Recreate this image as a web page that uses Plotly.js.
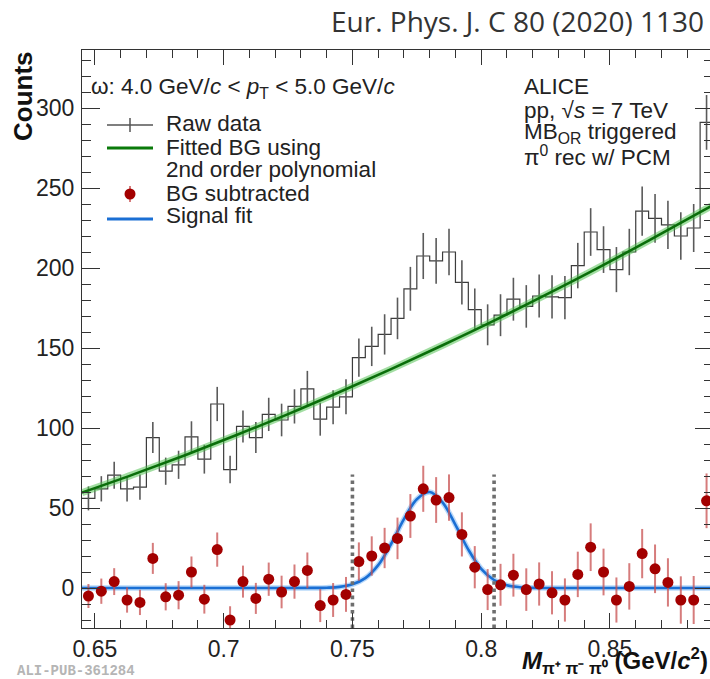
<!DOCTYPE html>
<html>
<head>
<meta charset="utf-8">
<script src="https://cdn.plot.ly/plotly-3.0.1.min.js"></script>
<style>
html, body { margin: 0; padding: 0; overflow: hidden; background: #fff; }
#chart { width: 716px; height: 679px; }
</style>
</head>
<body>
<div id="chart"></div>
<script>
// ---------------- data ----------------
const binWidth = 0.005;
const binCenters = [0.6475,0.6525,0.6575,0.6625,0.6675,0.6725,0.6775,0.6825,0.6875,0.6925,
  0.6975,0.7025,0.7075,0.7125,0.7175,0.7225,0.7275,0.7325,0.7375,0.7425,
  0.7475,0.7525,0.7575,0.7625,0.7675,0.7725,0.7775,0.7825,0.7875,0.7925,
  0.7975,0.8025,0.8075,0.8125,0.8175,0.8225,0.8275,0.8325,0.8375,0.8425,
  0.8475,0.8525,0.8575,0.8625,0.8675,0.8725,0.8775,0.8825,0.8875];

const rawCounts = [56,62,70.5,62,63,94,73,77,94.5,80.5,
  115,74,101,94,108.5,105,113.5,124.5,105.5,113,
  119.5,144,151,158.5,168.5,187,207.5,204.5,210,191,
  174,164.5,170.5,180.5,176,182.5,182,181.5,201.5,222.5,
  211.5,199,210,235.5,231,227,220,225,291];

const rawErr = [7.5,7.9,8.4,7.9,7.9,9.7,8.5,8.8,9.7,9.0,
  10.7,8.6,10.0,9.7,10.4,10.2,10.7,11.2,10.3,10.6,
  10.9,12.0,12.3,12.6,13.0,13.7,14.4,14.3,14.5,13.8,
  13.2,12.8,13.1,13.4,13.3,13.5,13.5,13.5,14.2,14.9,
  14.6,14.1,14.5,15.4,15.2,15.1,14.8,15.0,17.1];

const bgSub = [-5,-2,4,-7.5,-9,18.5,-5.5,-4.5,10,-7,
  24,-20,4,-6.5,5.5,-2.5,4,11,-11,-7.5,
  -4,16.5,20,25,31,45,62,55,56.5,33.5,
  13,-1,2,8,-1,2.5,-3,-7.5,8.5,25.5,
  10,-7.5,1,21.5,12,3.5,-7.5,-7.5,54.5];

const bgSubErr = rawErr;

// fitted background curve
const bgFitX = [0.645,0.665,0.685,0.705,0.725,0.745,0.765,0.785,0.805,0.825,0.845,0.865,0.885,0.89];
const bgFitY = [59.6,71.0,83.0,95.6,108.7,122.5,136.8,151.7,167.1,183.2,199.8,217.1,234.9,239.4];

// signal fit curve
const sigFitX = [0.645,0.70,0.72,0.735,0.74,0.745,0.75,0.755,0.76,0.765,0.77,0.775,0.78,0.785,0.79,0.795,0.80,0.805,0.81,0.815,0.82,0.83,0.85,0.89];
const sigFitY = [0,0,0,0.05,0.2,0.7,2.3,6.2,14.3,27.5,43,55.5,60,53.5,39.5,24,12,5,1.7,0.5,0.1,0,0,0];

// integration window
const intWindow = [0.75, 0.805];
const intLineTop = 71;

const xRange = [0.645, 0.89];
const yRange = [-25, 336.25];
const xTickVals = [0.65, 0.7, 0.75, 0.8, 0.85];
const xTickText = ['0.65', '0.7', '0.75', '0.8', '0.85'];
const yTickVals = [0, 50, 100, 150, 200, 250, 300];
const yTickText = ['0', '50', '100', '150', '200', '250', '300'];

// ---------------- build ----------------
const edges = binCenters.map(c => c - binWidth / 2).concat([binCenters[binCenters.length - 1] + binWidth / 2]);
const stepY = rawCounts.concat([rawCounts[rawCounts.length - 1]]);

const FONT = 'Liberation Sans, Arial, Helvetica, sans-serif';
const TXT = 22.5;

const traces = [
  { x: edges, y: stepY, mode: 'lines', line: { color: '#3c3c3c', width: 1.2, shape: 'hv' }, hoverinfo: 'skip' },
  { x: binCenters, y: rawCounts, mode: 'markers', marker: { size: 1, color: 'rgba(0,0,0,0)' },
    error_y: { type: 'data', array: rawErr, visible: true, width: 0, thickness: 1.6, color: '#5a5a5a' }, hoverinfo: 'skip' },
  { x: bgFitX, y: bgFitY, mode: 'lines', line: { color: 'rgba(70,190,70,0.5)', width: 7, shape: 'spline' }, hoverinfo: 'skip' },
  { x: bgFitX, y: bgFitY, mode: 'lines', line: { color: '#0a6e0a', width: 2.6, shape: 'spline' }, hoverinfo: 'skip' },
  { x: sigFitX, y: sigFitY, mode: 'lines', line: { color: 'rgba(100,170,245,0.45)', width: 5.5, shape: 'spline' }, hoverinfo: 'skip' },
  { x: sigFitX, y: sigFitY, mode: 'lines', line: { color: '#1a6fd4', width: 2.6, shape: 'spline' }, hoverinfo: 'skip' },
  { x: binCenters, y: bgSub, mode: 'markers', marker: { size: 11, color: '#a30000' },
    error_y: { type: 'data', array: bgSubErr, visible: true, width: 0, thickness: 2, color: 'rgba(200,80,80,0.75)' }, hoverinfo: 'skip' }
];
intWindow.forEach(xv => {
  traces.push({ x: [xv, xv], y: [yRange[0], intLineTop], mode: 'lines',
    line: { color: '#6e6e6e', width: 3.6, dash: 'dot' }, hoverinfo: 'skip' });
});

// pixel -> paper helpers (plot area: x 82..713, y 50..628)
const PL = 82, PR = 713, PT = 50, PB = 628;
const px = x => (x - PL) / (PR - PL);
const py = y => (PB - y) / (PB - PT);

function txt(x, y, text, size, opts) {
  return Object.assign({ xref: 'paper', yref: 'paper', x: px(x), y: py(y), text: text, showarrow: false,
    xanchor: 'left', yanchor: 'middle', font: { family: FONT, size: size, color: '#222' } }, opts || {});
}

const annotations = [
  txt(89, 88, 'ω: 4.0 GeV/<i>c</i> &lt; <i>p</i><sub>T</sub> &lt; 5.0 GeV/<i>c</i>', TXT),
  txt(164, 124, 'Raw data', TXT),
  txt(164, 147, 'Fitted BG using', TXT),
  txt(164, 170, '2nd order polynomial', TXT),
  txt(164, 193, 'BG subtracted', TXT),
  txt(164, 216, 'Signal fit', TXT),
  txt(522, 87, 'ALICE', TXT),
  txt(522, 110, 'pp, √<i>s</i> = 7 TeV', TXT),
  txt(522, 133, 'MB<sub>OR</sub> triggered', TXT),
  txt(522, 156, 'π<sup>0</sup> rec w/ PCM', TXT),
  txt(23, 96, '<b>Counts</b>', 26, { xanchor: 'center', textangle: -90, font: { family: FONT, size: 26, color: '#111' } }),
  txt(710, 661, '<b><i>M</i></b><sub><b>π⁺ π⁻ π⁰</b></sub> <b>(GeV/<i>c</i><sup>2</sup>)</b>', 24,
    { xanchor: 'right', font: { family: FONT, size: 24, color: '#111' } }),
  txt(706, 21, 'Eur. Phys. J. C 80 (2020) 1130', 28,
    { xanchor: 'right', font: { family: 'Open Sans, sans-serif', size: 28, color: '#333' } }),
  txt(15, 671, '<b>ALI-PUB-361284</b>', 14,
    { font: { family: 'Liberation Mono, DejaVu Sans Mono, monospace', size: 14, color: '#b5b5b5' } })
];

const shapes = [
  { type: 'line', xref: 'paper', yref: 'paper', x0: px(107), x1: px(153), y0: py(125), y1: py(125), line: { color: '#555', width: 1.5 } },
  { type: 'line', xref: 'paper', yref: 'paper', x0: px(130), x1: px(130), y0: py(118), y1: py(132), line: { color: '#555', width: 1.5 } },
  { type: 'line', xref: 'paper', yref: 'paper', x0: px(107), x1: px(153), y0: py(148), y1: py(148), line: { color: '#0a7a0a', width: 3 } },
  { type: 'line', xref: 'paper', yref: 'paper', x0: px(130), x1: px(130), y0: py(186), y1: py(202), line: { color: 'rgba(200,80,80,0.75)', width: 2 } },
  { type: 'circle', xref: 'paper', yref: 'paper', x0: px(124.5), x1: px(135.5), y0: py(188.5), y1: py(199.5), fillcolor: '#a30000', line: { width: 0 } },
  { type: 'line', xref: 'paper', yref: 'paper', x0: px(107), x1: px(153), y0: py(219), y1: py(219), line: { color: '#1a6fd4', width: 3 } }
];

const axisCommon = {
  showgrid: false, zeroline: false, showline: true, linecolor: '#333', linewidth: 1,
  mirror: 'allticks', ticks: 'inside', tickcolor: '#333', tickwidth: 1,
  tickfont: { family: FONT, size: 23, color: '#222' }
};

const layout = {
  width: 716, height: 679,
  margin: { l: PL, r: 716 - PR, t: PT, b: 679 - PB },
  paper_bgcolor: '#fff', plot_bgcolor: '#fff',
  showlegend: false,
  xaxis: Object.assign({}, axisCommon, {
    range: xRange, tickmode: 'array', tickvals: xTickVals, ticktext: xTickText, ticklen: 15,
    ticklabelstandoff: 0,
    minor: { dtick: 0.01, tick0: 0.65, ticks: 'inside', ticklen: 8, tickcolor: '#333', showgrid: false }
  }),
  yaxis: Object.assign({}, axisCommon, {
    range: yRange, tickmode: 'array', tickvals: yTickVals, ticktext: yTickText, ticklen: 18,
    ticklabelstandoff: 2,
    minor: { dtick: 10, tick0: 0, ticks: 'inside', ticklen: 9, tickcolor: '#333', showgrid: false }
  }),
  annotations: annotations,
  shapes: shapes
};

Plotly.newPlot('chart', traces, layout, { staticPlot: true, displayModeBar: false });
</script>
</body>
</html>
